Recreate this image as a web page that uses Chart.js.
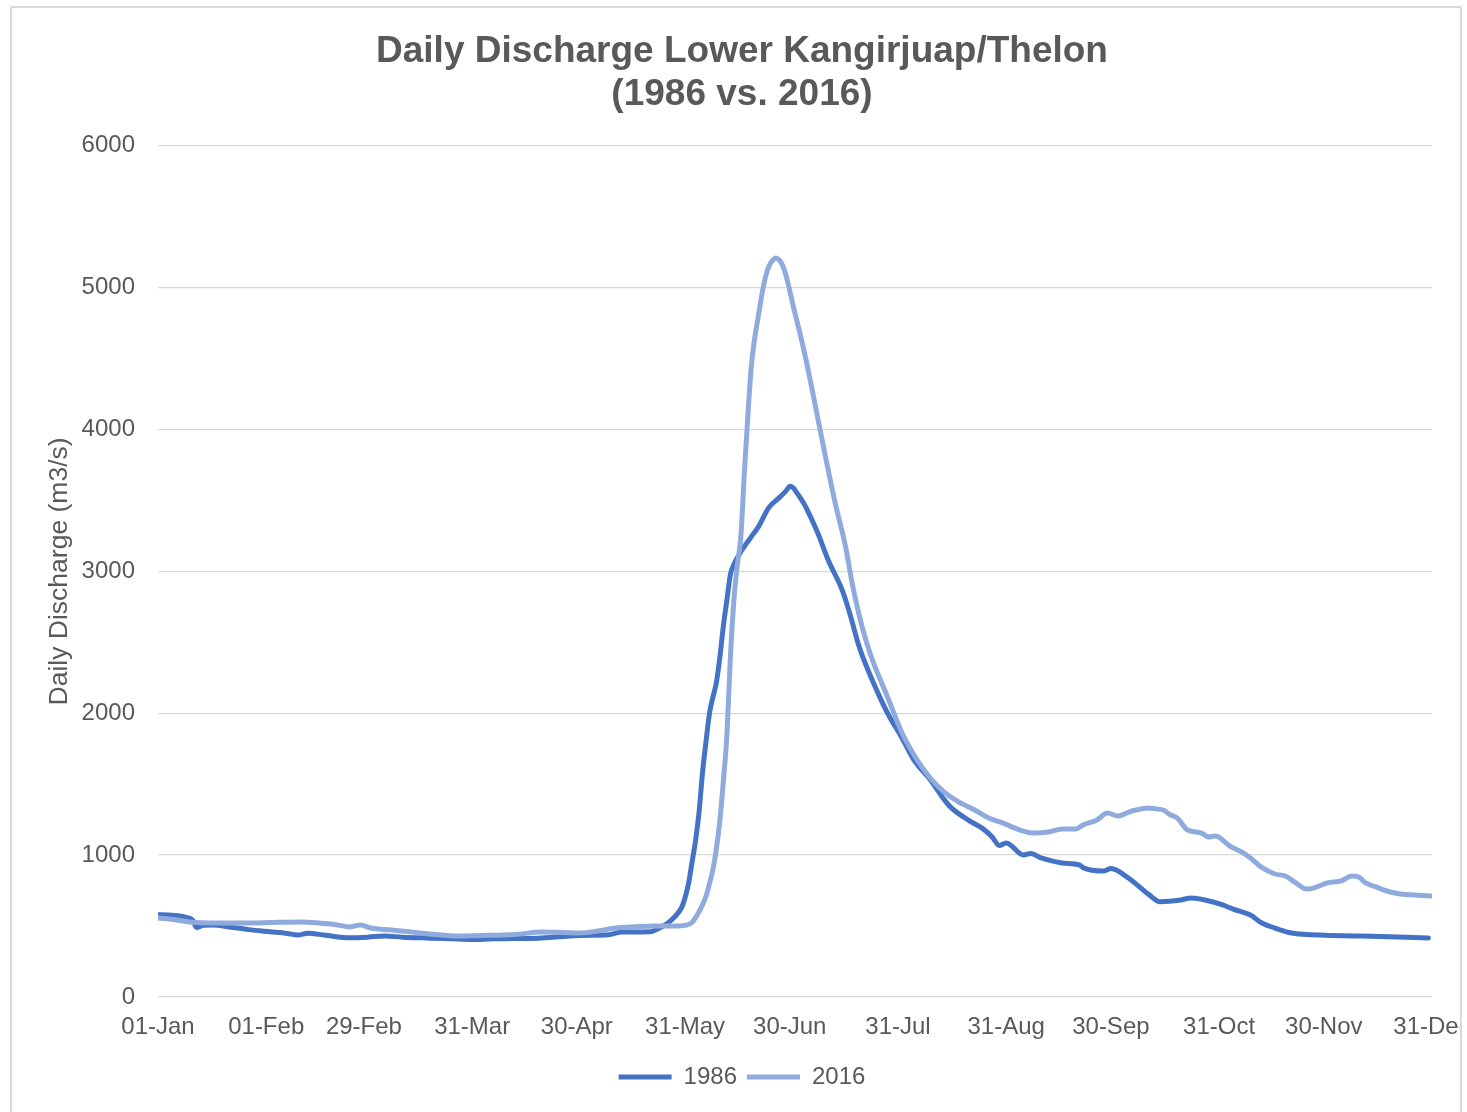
<!DOCTYPE html>
<html>
<head>
<meta charset="utf-8">
<script src="https://cdn.jsdelivr.net/npm/chart.js@4/dist/chart.umd.min.js"></script>
<style>
  html, body { margin: 0; padding: 0; background: #fff; overflow: hidden; }
  .frame {
    position: absolute; left: 10px; top: 6px;
    width: 1448px; height: 1120px;
    border: 2px solid #d9d9d9; overflow: hidden;
  }
  .wrap { position: absolute; left: 0; top: 0; width: 1460px; height: 1104px; }
</style>
</head>
<body>
<div class="frame"><div class="wrap"><canvas id="chartLine"></canvas></div></div>
<script>
  // day of year (0 = 01-Jan) and discharge in m3/s
  const days1986 = [0, 4, 8, 10, 11, 13, 16, 20, 26, 32, 37, 40, 43, 48, 55, 60, 65, 70, 78, 84, 90, 96, 102, 109, 118, 124, 129, 133, 141, 144, 146, 148, 150, 151, 152, 153, 154, 155, 156, 157, 158, 159, 160, 161, 162, 163, 164, 165, 167, 170, 172, 175, 178, 180, 181, 182, 183, 185, 186, 189, 192, 196, 198, 201, 205, 209, 213, 217, 221, 225, 227, 233, 236, 239, 241, 243, 248, 250, 253, 259, 264, 265, 271, 273, 278, 284, 287, 293, 296, 300, 305, 308, 313, 316, 320, 324, 328, 345, 364];
  const flow1986 = [580, 576, 562, 540, 490, 505, 508, 495, 475, 460, 448, 437, 450, 435, 418, 422, 430, 422, 415, 410, 405, 410, 412, 415, 430, 435, 438, 458, 460, 490, 520, 565, 630, 700, 800, 950, 1100, 1300, 1580, 1800, 2000, 2115, 2220, 2400, 2620, 2800, 2980, 3050, 3140, 3245, 3314, 3450, 3520, 3570, 3600, 3590, 3555, 3480, 3434, 3272, 3080, 2870, 2720, 2460, 2214, 2002, 1833, 1655, 1540, 1400, 1340, 1234, 1192, 1128, 1068, 1086, 1001, 1012, 980, 945, 931, 912, 888, 905, 839, 720, 672, 684, 698, 684, 649, 620, 578, 525, 486, 455, 442, 430, 416];

  const days2016 = [0, 5, 9, 17, 26, 33, 41, 46, 51, 55, 58, 61, 67, 72, 78, 87, 95, 102, 110, 116, 121, 126, 131, 137, 142, 148, 151, 153, 154, 155, 156, 157, 158, 159, 160, 161, 162, 163, 164, 165, 166, 167, 168, 169, 170, 171, 172, 173, 174, 175, 176, 177, 178, 179, 180, 182, 185, 188, 191, 194, 197, 199, 201, 203, 205, 209, 213, 217, 221, 225, 229, 234, 238, 242, 247, 251, 255, 259, 263, 265, 269, 272, 275, 279, 284, 286, 288, 290, 292, 295, 299, 301, 303, 307, 311, 313, 316, 320, 323, 326, 329, 331, 335, 339, 342, 344, 346, 349, 353, 356, 360, 365];
  const flow2016 = [557, 545, 529, 522, 522, 526, 529, 522, 510, 494, 508, 486, 472, 460, 444, 430, 435, 440, 458, 455, 451, 465, 486, 495, 500, 500, 505, 525, 560, 600, 650, 710, 800, 900, 1050, 1250, 1530, 1850, 2400, 2800, 3050, 3250, 3700, 4100, 4450, 4650, 4800, 4950, 5070, 5150, 5190, 5210, 5195, 5155, 5080, 4870, 4565, 4209, 3836, 3483, 3173, 2900, 2680, 2500, 2355, 2115, 1870, 1690, 1551, 1450, 1380, 1318, 1262, 1227, 1177, 1156, 1163, 1185, 1185, 1213, 1248, 1297, 1276, 1311, 1333, 1326, 1318, 1285, 1262, 1177, 1156, 1128, 1135, 1065, 1015, 980, 917, 867, 853, 804, 761, 768, 804, 818, 853, 846, 804, 776, 740, 726, 719, 712];

  const tickDays = [0, 31, 59, 90, 120, 151, 181, 212, 243, 273, 304, 334, 365];
  const tickLabels = ['01-Jan', '01-Feb', '29-Feb', '31-Mar', '30-Apr', '31-May', '30-Jun', '31-Jul', '31-Aug', '30-Sep', '31-Oct', '30-Nov', '31-Dec'];

  const toPoints = (xs, ys) => xs.map((d, i) => ({ x: d, y: ys[i] }));

  const font = 'Liberation Sans, Arial, sans-serif';
  const grey = '#595959';

  const ctxLine = document.getElementById('chartLine');
  new Chart(ctxLine, {
    type: 'line',
    data: {
      datasets: [
        {
          label: '1986',
          data: toPoints(days1986, flow1986),
          borderColor: '#4472C4',
          backgroundColor: '#4472C4',
          borderWidth: 5,
          borderCapStyle: 'round',
          pointRadius: 0,
          cubicInterpolationMode: 'monotone',
          order: 1
        },
        {
          label: '2016',
          data: toPoints(days2016, flow2016),
          borderColor: '#8FAADC',
          backgroundColor: '#8FAADC',
          borderWidth: 5,
          borderCapStyle: 'round',
          pointRadius: 0,
          cubicInterpolationMode: 'monotone',
          order: 0
        }
      ]
    },
    options: {
      responsive: true,
      maintainAspectRatio: false,
      animation: false,
      layout: { padding: { left: 0, right: 0, top: 0, bottom: 13 } },
      plugins: {
        title: {
          display: true,
          text: ['Daily Discharge Lower Kangirjuap/Thelon', '(1986 vs. 2016)'],
          color: grey,
          font: { family: font, size: 37, weight: 'bold', lineHeight: 1.16 },
          padding: { top: 22, bottom: 30 }
        },
        legend: {
          display: true,
          position: 'bottom',
          labels: {
            color: grey,
            font: { family: font, size: 24 },
            padding: 10,
            usePointStyle: true,
            pointStyle: 'line',
            pointStyleWidth: 53,
            sort: (a, b) => a.datasetIndex - b.datasetIndex
          }
        },
        tooltip: { enabled: false }
      },
      scales: {
        x: {
          type: 'linear',
          min: 0,
          max: 365,
          grid: { display: false, drawTicks: false },
          border: { display: false },
          afterBuildTicks: (scale) => {
            scale.ticks = tickDays.map(v => ({ value: v }));
          },
          afterFit: (scale) => {
            scale.paddingRight = 40;
            scale.height = 58;
          },
          ticks: {
            autoSkip: false,
            maxRotation: 0,
            padding: 16,
            color: grey,
            font: { family: font, size: 24 },
            callback: (value, index) => tickLabels[index]
          }
        },
        y: {
          min: 0,
          max: 6000,
          grid: { color: '#d9d9d9', lineWidth: 1.3, drawTicks: false },
          border: { display: false },
          afterFit: (scale) => {
            scale.width = 146;
          },
          ticks: {
            stepSize: 1000,
            padding: 23,
            color: grey,
            font: { family: font, size: 24 },
            callback: (value) => String(value)
          },
          title: {
            display: true,
            text: 'Daily Discharge (m3/s)',
            color: grey,
            font: { family: font, size: 26.5 },
            padding: { top: 32, bottom: 0 }
          }
        }
      }
    }
  });
</script>
</body>
</html>
